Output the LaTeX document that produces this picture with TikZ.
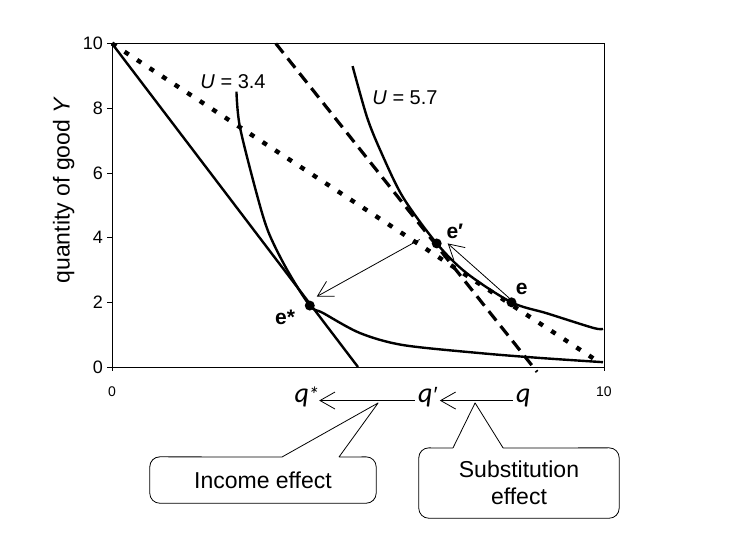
\documentclass[tikz,border=0pt]{standalone}
\usepackage{fontspec}
\setmainfont{Liberation Sans}
\setsansfont{Liberation Sans}
\newfontfamily\qfont{Carlito}
\usetikzlibrary{arrows.meta,positioning}

\tikzset{
    axlabel/.style={font=\fontsize{23}{27}\selectfont},
    ticklab/.style={font=\fontsize{18}{21}\selectfont,inner sep=0pt},
    xticklab/.style={font=\fontsize{14}{17}\selectfont,inner sep=0pt},
    ulab/.style={font=\fontsize{20}{24}\selectfont},
    elab/.style={font=\bfseries\fontsize{21}{25}\selectfont,inner sep=0pt},
    qlab/.style={font=\qfont\itshape\fontsize{28}{32}\selectfont,inner ysep=0pt,inner xsep=3pt,anchor=base},
    budget/.style={line width=2.4pt},
    indiff/.style={line width=2.4pt,line join=round},
    dashbudget/.style={line width=3.2pt,dash pattern=on 12pt off 7pt},
    dotbudget/.style={line width=4.4pt,dash pattern=on 5pt off 10pt},
    effarrow/.style={line width=0.8pt,-{Straight Barb[length=15pt,width=17pt]}},
    eqdot/.style={circle,fill=black,inner sep=0pt,minimum size=10pt},
    callbox/.style={inner sep=0pt,align=center,font=\fontsize{23}{27}\selectfont},
    callout/.style={line width=0.8pt,line join=round},
}

\begin{document}
\begin{tikzpicture}[x=49.2pt,y=32.35pt]
\useasboundingbox (-2.276,-5.410) rectangle (12.866,11.345);

% frame and ticks
\draw[line width=0.8pt] (0,0) rectangle (10,10);
\foreach \v in {0,2,...,10} {
    \draw[line width=0.8pt] (0,\v) -- ++(-5pt,0);
    \node[ticklab,anchor=east] (ytick\v) at (-0.18,\v) {\v};
}
\foreach \v in {0,10} {
    \draw[line width=0.8pt] (\v,0) -- ++(0,-4pt);
    \node[xticklab] (xtick\v) at (\v,-0.77) {\v};
}
\node[axlabel,rotate=90] (ylab) at (-0.98,5.47) {quantity of good \textit{Y}};

% budget lines
\draw[dotbudget] (0,10) -- (9.8,0.25);
\draw[dashbudget] (3.33,10) -- (8.64,-0.15);
\draw[budget] (0,10) -- (5,0);

% indifference curves
\draw[indiff] plot[smooth,tension=0.5] coordinates {
    (2.53,8.51) (2.60,7.42) (2.94,5.36) (3.18,4.17) (3.55,3.03) (4.02,1.90)
    (4.29,1.67) (5.04,1.05) (5.91,0.68) (7.48,0.43) (8.70,0.28) (9.98,0.15)};
\draw[indiff] plot[smooth,tension=0.5] coordinates {
    (4.89,9.30) (5.18,7.74) (5.45,6.71) (5.91,5.26) (6.60,3.82) (7.21,2.90)
    (8.12,2.00) (8.84,1.66) (9.78,1.21) (9.98,1.18)};
\node[ulab] (ulow) at (2.46,8.81) {\textit{U} = 3.4};
\node[ulab] (uhigh) at (5.955,8.315) {\textit{U} = 5.7};

% equilibria
\node[eqdot] (estar) at (4.02,1.90) {};
\node[eqdot] (eprime) at (6.60,3.82) {};
\node[eqdot] (e) at (8.12,2.00) {};
\node[elab] (estarlab) at (3.52,1.52) {e*};
\node[elab] (eprimelab) at (6.97,4.20) {e′};
\node[elab] (elab) at (8.33,2.41) {e};
\draw[effarrow] ([shift={(-2pt,4pt)}]e.center) -- ([shift={(11pt,0pt)}]eprime.center);
\draw[effarrow] ([shift={(-17pt,4pt)}]eprime.center) -- ([shift={(7pt,9pt)}]estar.center);

% quantities on the x axis
\coordinate (qaxis) at (0,-1.036);
\node[qlab] (qstar) at (3.96,-1.10) {q\kern-1pt{\fontsize{22}{26}\selectfont *}};
\node[qlab] (qprime) at (6.41,-1.10) {q{\rmfamily\itshape\fontsize{22}{26}\selectfont ′}};
\node[qlab] (q) at (8.36,-1.10) {q};
\draw[effarrow] (q.west |- qaxis) -- (qprime.east |- qaxis);
\draw[effarrow,shorten >=-3pt] (qprime.west |- qaxis) -- (qstar.east |- qaxis);

% callouts
\node[callbox,minimum width=226pt,minimum height=46pt] (incbox) at (3.069,-3.493) {Income effect};
\coordinate (incapex) at (5.41,-1.11);
\coordinate (incb1) at (3.455,-2.782);
\coordinate (incb2) at (4.614,-2.782);
\draw[callout] (incb1) -- (incapex) -- (incb2)
    {[rounded corners=10pt] (incb2) -- (incbox.north east) -- (incbox.south east)
    -- (incbox.south west) -- (incbox.north west) -- (incb1)};

\node[callbox,minimum width=200pt,minimum height=70pt] (subbox) at (8.272,-3.586) {Substitution\\effect};
\coordinate (subapex) at (7.38,-1.11);
\coordinate (subb1) at (6.93,-2.504);
\coordinate (subb2) at (7.95,-2.504);
\draw[callout] (subb1) -- (subapex) -- (subb2)
    {[rounded corners=10pt] (subb2) -- (subbox.north east) -- (subbox.south east)
    -- (subbox.south west) -- (subbox.north west) -- (subb1)};
\end{tikzpicture}
\end{document}
